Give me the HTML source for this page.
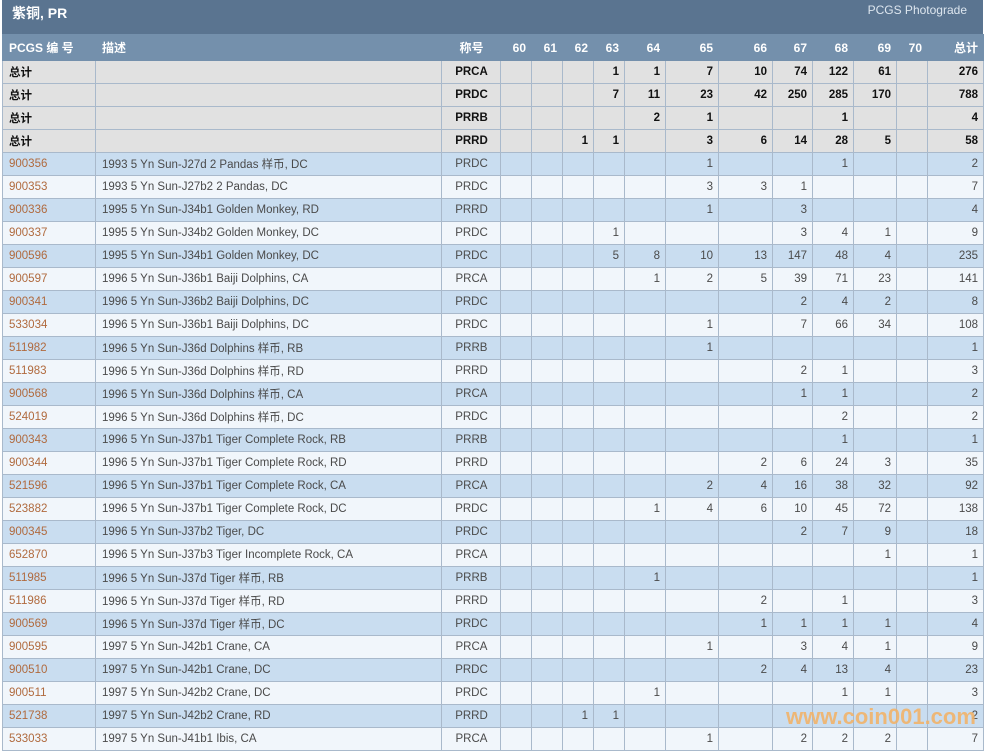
<!DOCTYPE html>
<html><head><meta charset="utf-8"><style>
body{margin:0;width:985px;height:746px;overflow:hidden;background:#fff;font-family:"Liberation Sans","Noto Sans CJK SC",sans-serif;}
.top{position:absolute;left:2px;top:0;width:981px;height:34px;background:#5a7490;color:#fff;}
.top .t{position:absolute;left:10px;top:3px;font-size:14px;font-weight:bold;}
.top .p{position:absolute;right:16px;top:3px;font-size:12px;color:#dde6ef;}
table{position:absolute;left:2px;top:34px;border-collapse:collapse;table-layout:fixed;width:981px;font-size:11.5px;}
td,th{height:22px;padding:0 5px 0 6px;border:1px solid #a9b9cb;white-space:nowrap;overflow:hidden;text-align:right;color:#4a4a4a;}
th{background:#7490ac;color:#fff;font-weight:bold;border-color:#7490ac;height:25px;font-size:12px;}
td:nth-child(1),td:nth-child(2),th:nth-child(1),th:nth-child(2){text-align:left;}
td:nth-child(3),th:nth-child(3){text-align:center;}
tr.s td{background:#e1e1e1;font-weight:bold;color:#111;}
tr.a td{background:#c9ddf0;}
tr.b td{background:#f1f6fb;}
td.n{color:#b06a3e;}
.wm{position:absolute;left:786px;top:704px;font-size:22px;font-weight:bold;color:#f2b36a;opacity:.9;}
</style></head><body>
<div class="top"><span class="t">紫铜, PR</span><span class="p">PCGS Photograde</span></div>
<table>
<colgroup><col style="width:93px"><col style="width:346px"><col style="width:59px"><col style="width:31px"><col style="width:31px"><col style="width:31px"><col style="width:31px"><col style="width:41px"><col style="width:53px"><col style="width:54px"><col style="width:40px"><col style="width:41px"><col style="width:43px"><col style="width:31px"><col style="width:56px"></colgroup>
<tr><th>PCGS 编 号</th><th>描述</th><th>称号</th><th>60</th><th>61</th><th>62</th><th>63</th><th>64</th><th>65</th><th>66</th><th>67</th><th>68</th><th>69</th><th>70</th><th>总计</th></tr>
<tr class="s"><td>总计</td><td></td><td>PRCA</td><td></td><td></td><td></td><td>1</td><td>1</td><td>7</td><td>10</td><td>74</td><td>122</td><td>61</td><td></td><td>276</td></tr>
<tr class="s"><td>总计</td><td></td><td>PRDC</td><td></td><td></td><td></td><td>7</td><td>11</td><td>23</td><td>42</td><td>250</td><td>285</td><td>170</td><td></td><td>788</td></tr>
<tr class="s"><td>总计</td><td></td><td>PRRB</td><td></td><td></td><td></td><td></td><td>2</td><td>1</td><td></td><td></td><td>1</td><td></td><td></td><td>4</td></tr>
<tr class="s"><td>总计</td><td></td><td>PRRD</td><td></td><td></td><td>1</td><td>1</td><td></td><td>3</td><td>6</td><td>14</td><td>28</td><td>5</td><td></td><td>58</td></tr>
<tr class="a"><td class="n">900356</td><td>1993 5 Yn Sun-J27d 2 Pandas 样币, DC</td><td>PRDC</td><td></td><td></td><td></td><td></td><td></td><td>1</td><td></td><td></td><td>1</td><td></td><td></td><td>2</td></tr>
<tr class="b"><td class="n">900353</td><td>1993 5 Yn Sun-J27b2 2 Pandas, DC</td><td>PRDC</td><td></td><td></td><td></td><td></td><td></td><td>3</td><td>3</td><td>1</td><td></td><td></td><td></td><td>7</td></tr>
<tr class="a"><td class="n">900336</td><td>1995 5 Yn Sun-J34b1 Golden Monkey, RD</td><td>PRRD</td><td></td><td></td><td></td><td></td><td></td><td>1</td><td></td><td>3</td><td></td><td></td><td></td><td>4</td></tr>
<tr class="b"><td class="n">900337</td><td>1995 5 Yn Sun-J34b2 Golden Monkey, DC</td><td>PRDC</td><td></td><td></td><td></td><td>1</td><td></td><td></td><td></td><td>3</td><td>4</td><td>1</td><td></td><td>9</td></tr>
<tr class="a"><td class="n">900596</td><td>1995 5 Yn Sun-J34b1 Golden Monkey, DC</td><td>PRDC</td><td></td><td></td><td></td><td>5</td><td>8</td><td>10</td><td>13</td><td>147</td><td>48</td><td>4</td><td></td><td>235</td></tr>
<tr class="b"><td class="n">900597</td><td>1996 5 Yn Sun-J36b1 Baiji Dolphins, CA</td><td>PRCA</td><td></td><td></td><td></td><td></td><td>1</td><td>2</td><td>5</td><td>39</td><td>71</td><td>23</td><td></td><td>141</td></tr>
<tr class="a"><td class="n">900341</td><td>1996 5 Yn Sun-J36b2 Baiji Dolphins, DC</td><td>PRDC</td><td></td><td></td><td></td><td></td><td></td><td></td><td></td><td>2</td><td>4</td><td>2</td><td></td><td>8</td></tr>
<tr class="b"><td class="n">533034</td><td>1996 5 Yn Sun-J36b1 Baiji Dolphins, DC</td><td>PRDC</td><td></td><td></td><td></td><td></td><td></td><td>1</td><td></td><td>7</td><td>66</td><td>34</td><td></td><td>108</td></tr>
<tr class="a"><td class="n">511982</td><td>1996 5 Yn Sun-J36d Dolphins 样币, RB</td><td>PRRB</td><td></td><td></td><td></td><td></td><td></td><td>1</td><td></td><td></td><td></td><td></td><td></td><td>1</td></tr>
<tr class="b"><td class="n">511983</td><td>1996 5 Yn Sun-J36d Dolphins 样币, RD</td><td>PRRD</td><td></td><td></td><td></td><td></td><td></td><td></td><td></td><td>2</td><td>1</td><td></td><td></td><td>3</td></tr>
<tr class="a"><td class="n">900568</td><td>1996 5 Yn Sun-J36d Dolphins 样币, CA</td><td>PRCA</td><td></td><td></td><td></td><td></td><td></td><td></td><td></td><td>1</td><td>1</td><td></td><td></td><td>2</td></tr>
<tr class="b"><td class="n">524019</td><td>1996 5 Yn Sun-J36d Dolphins 样币, DC</td><td>PRDC</td><td></td><td></td><td></td><td></td><td></td><td></td><td></td><td></td><td>2</td><td></td><td></td><td>2</td></tr>
<tr class="a"><td class="n">900343</td><td>1996 5 Yn Sun-J37b1 Tiger Complete Rock, RB</td><td>PRRB</td><td></td><td></td><td></td><td></td><td></td><td></td><td></td><td></td><td>1</td><td></td><td></td><td>1</td></tr>
<tr class="b"><td class="n">900344</td><td>1996 5 Yn Sun-J37b1 Tiger Complete Rock, RD</td><td>PRRD</td><td></td><td></td><td></td><td></td><td></td><td></td><td>2</td><td>6</td><td>24</td><td>3</td><td></td><td>35</td></tr>
<tr class="a"><td class="n">521596</td><td>1996 5 Yn Sun-J37b1 Tiger Complete Rock, CA</td><td>PRCA</td><td></td><td></td><td></td><td></td><td></td><td>2</td><td>4</td><td>16</td><td>38</td><td>32</td><td></td><td>92</td></tr>
<tr class="b"><td class="n">523882</td><td>1996 5 Yn Sun-J37b1 Tiger Complete Rock, DC</td><td>PRDC</td><td></td><td></td><td></td><td></td><td>1</td><td>4</td><td>6</td><td>10</td><td>45</td><td>72</td><td></td><td>138</td></tr>
<tr class="a"><td class="n">900345</td><td>1996 5 Yn Sun-J37b2 Tiger, DC</td><td>PRDC</td><td></td><td></td><td></td><td></td><td></td><td></td><td></td><td>2</td><td>7</td><td>9</td><td></td><td>18</td></tr>
<tr class="b"><td class="n">652870</td><td>1996 5 Yn Sun-J37b3 Tiger Incomplete Rock, CA</td><td>PRCA</td><td></td><td></td><td></td><td></td><td></td><td></td><td></td><td></td><td></td><td>1</td><td></td><td>1</td></tr>
<tr class="a"><td class="n">511985</td><td>1996 5 Yn Sun-J37d Tiger 样币, RB</td><td>PRRB</td><td></td><td></td><td></td><td></td><td>1</td><td></td><td></td><td></td><td></td><td></td><td></td><td>1</td></tr>
<tr class="b"><td class="n">511986</td><td>1996 5 Yn Sun-J37d Tiger 样币, RD</td><td>PRRD</td><td></td><td></td><td></td><td></td><td></td><td></td><td>2</td><td></td><td>1</td><td></td><td></td><td>3</td></tr>
<tr class="a"><td class="n">900569</td><td>1996 5 Yn Sun-J37d Tiger 样币, DC</td><td>PRDC</td><td></td><td></td><td></td><td></td><td></td><td></td><td>1</td><td>1</td><td>1</td><td>1</td><td></td><td>4</td></tr>
<tr class="b"><td class="n">900595</td><td>1997 5 Yn Sun-J42b1 Crane, CA</td><td>PRCA</td><td></td><td></td><td></td><td></td><td></td><td>1</td><td></td><td>3</td><td>4</td><td>1</td><td></td><td>9</td></tr>
<tr class="a"><td class="n">900510</td><td>1997 5 Yn Sun-J42b1 Crane, DC</td><td>PRDC</td><td></td><td></td><td></td><td></td><td></td><td></td><td>2</td><td>4</td><td>13</td><td>4</td><td></td><td>23</td></tr>
<tr class="b"><td class="n">900511</td><td>1997 5 Yn Sun-J42b2 Crane, DC</td><td>PRDC</td><td></td><td></td><td></td><td></td><td>1</td><td></td><td></td><td></td><td>1</td><td>1</td><td></td><td>3</td></tr>
<tr class="a"><td class="n">521738</td><td>1997 5 Yn Sun-J42b2 Crane, RD</td><td>PRRD</td><td></td><td></td><td>1</td><td>1</td><td></td><td></td><td></td><td></td><td></td><td></td><td></td><td>2</td></tr>
<tr class="b"><td class="n">533033</td><td>1997 5 Yn Sun-J41b1 Ibis, CA</td><td>PRCA</td><td></td><td></td><td></td><td></td><td></td><td>1</td><td></td><td>2</td><td>2</td><td>2</td><td></td><td>7</td></tr>
</table>
<div class="wm">www.coin001.com</div>
</body></html>
